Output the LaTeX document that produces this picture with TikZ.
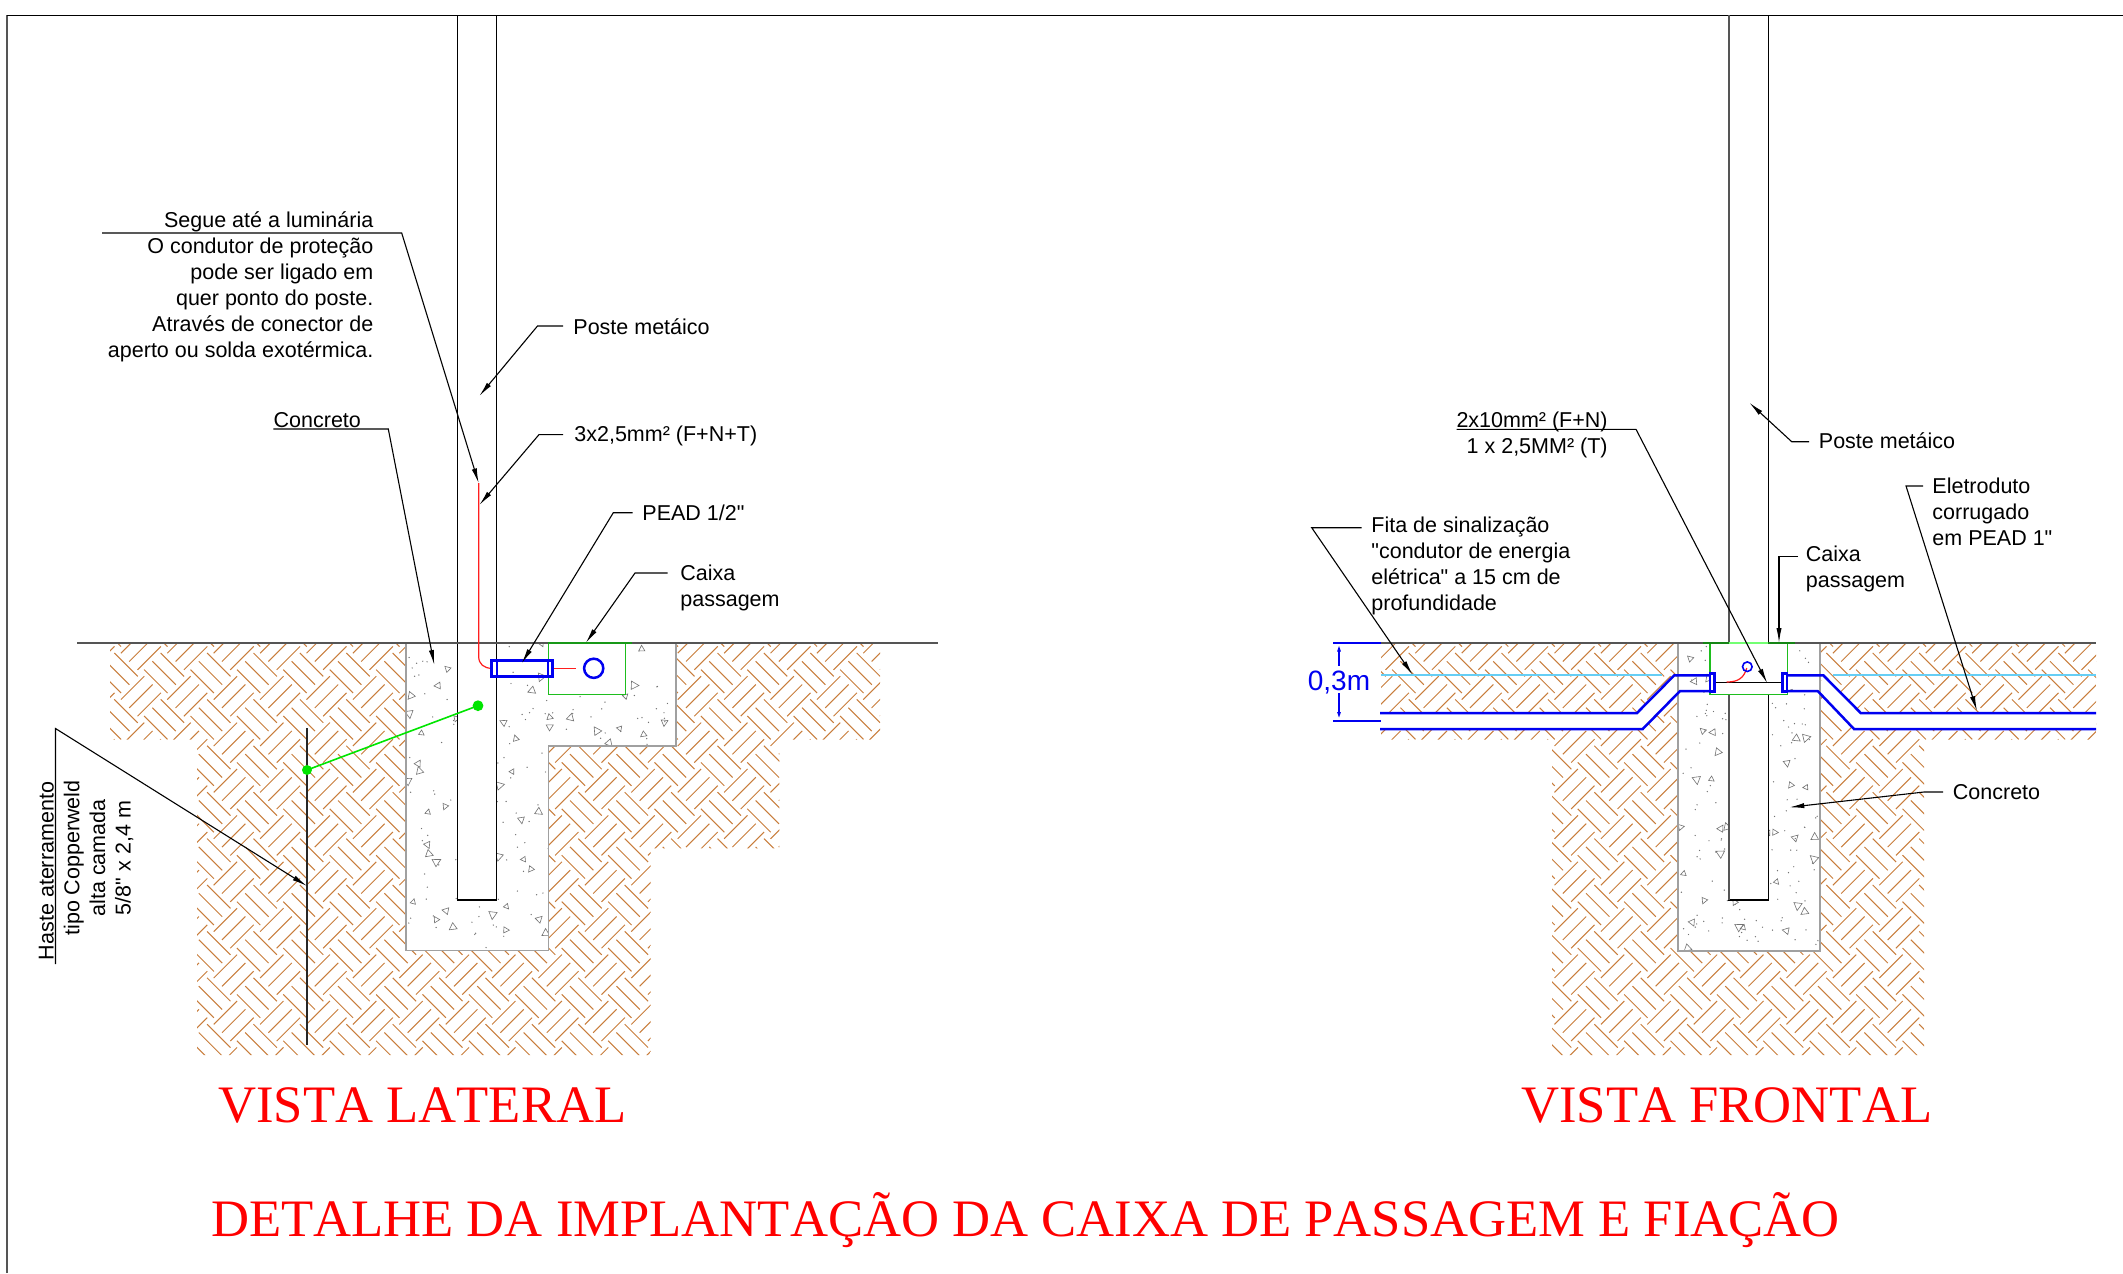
\documentclass[tikz,border=0pt]{standalone}
\usepackage{fontspec}
\setmainfont{Liberation Sans}
\newfontfamily\labelfont{Liberation Sans}
\newfontfamily\titlefont{Liberation Serif}[Kerning=Off]
\usetikzlibrary{arrows.meta}
\definecolor{soil}{RGB}{200,125,60}
\definecolor{cablered}{RGB}{255,30,30}
\definecolor{ductblue}{RGB}{0,0,240}
\definecolor{boxgreen}{RGB}{30,190,30}
\definecolor{groundgray}{RGB}{85,85,85}
\definecolor{concgray}{RGB}{160,160,160}
\tikzset{
  x=.5pt,y=-.5pt,
  hatchline/.style={draw=soil,line width=.5pt},
  leader/.style={draw=black,line width=.55pt,-{Latex[length=7.5pt,width=2.6pt]}},
  label/.style={font=\labelfont\fontsize{10.75pt}{13pt}\selectfont,inner sep=0pt},
  title/.style={font=\titlefont\fontsize{26.32pt}{30pt}\selectfont,text=red,inner sep=0pt},
  speck/.style={draw=black!55,line width=.3pt},
  dot/.style={fill=black!55},
  ground/.style={draw=groundgray,line width=.85pt},
  concrete/.style={draw=concgray,line width=.8pt},
  duct/.style={draw=ductblue,line width=1.25pt},
  pole/.style={draw=black,line width=.7pt,fill=white},
  boxline/.style={draw=boxgreen,line width=.6pt,fill=white},
  greendot/.style={fill=green!90!black},
}
\newcommand{\hatchtile}[2]{%
  \draw[hatchline,shift={(#1,#2)}]
    (-11.7,-11.7)--(11.7,11.7) (-20,-3.4)--(3.4,20) (-3.4,-20)--(20,3.4)
    (11.5,34.9)--(34.9,11.5) (19.8,43.2)--(43.2,19.8) (3.2,26.6)--(26.6,3.2);}
\newcommand{\tridraw}[3]{%
  \pgfmathsetmacro\trisc{.75+.1*mod(#3,5)}%
  \pgfmathsetmacro\trirot{#3*47}%
  \draw[speck,shift={(#1,#2)},rotate=\trirot,scale=\trisc] (0,-4)--(3.6,2.6)--(-3.6,2.6)--cycle;}
\begin{document}
\begin{tikzpicture}
\useasboundingbox (0,0) rectangle (2123,1273);
% frame
\draw[draw=groundgray,line width=.8pt] (7,1273)--(7,15.5);
\draw[draw=black,line width=.7pt] (7,15.5)--(2123,15.5);

% ---------- left view: soil
\begin{scope}
\clip (110,643)--(880,643)--(880,739.5)--(779.3,739.5)--(779.3,848.3)--(650.7,848.3)--(650.7,1055)--(197,1055)--(197,739.5)--(110,739.5)--cycle;
\foreach \ix in {0,...,18}{\foreach \iy in {0,...,10}{\hatchtile{71.3+46.4*\ix}{626.6+46.4*\iy}}}
\end{scope}
% concrete
\fill[white] (406,643)--(676,643)--(676,745.7)--(548.3,745.7)--(548.3,950.5)--(406,950.5)--cycle;
\begin{scope}
\clip (406,643)--(676,643)--(676,745.7)--(548.3,745.7)--(548.3,950.5)--(406,950.5)--cycle;
\pgfmathsetseed{4711}
\foreach \n in {1,...,210}{
  \pgfmathsetmacro\dotx{408+rnd*266}
  \pgfmathsetmacro\doty{646+rnd*302}
  \fill[dot] (\dotx,\doty) circle[radius=.35pt];}
\foreach \zx/\zy [count=\cnt] in {202/206,173/257,92/288,88/342,125/400,230/355,115/490,118/512,82/542,143/637,195/620,143/735,148/762,170/785,100/905,168/958,197/932,218/982,338/945,380/920,378/990,478/957,497/998,355/768,430/778,452/808,424/660,477/636,360/556,397/514,407/415,370/367,455/272,483/232,485/132,510/352,510/380,572/352,650/392,718/385,790/404,853/368,688/430,763/256,737/288,785/146}{
  \tridraw{380+\zx/3}{600+\zy/3}{\cnt}}
\end{scope}
\draw[concrete] (406,643)--(406,950.5)--(548.3,950.5)--(548.3,745.7)--(676,745.7)--(676,643);
% pole, box
\draw[pole] (457.3,15.5) rectangle (496.7,900);
\draw[boxline] (548.3,643) rectangle (625.3,694.3);
\draw[ground] (77,643)--(938,643);
\draw[draw=boxgreen!80!black,line width=.7pt] (548.3,643)--(632,643);
% rod and ground wire
\draw[draw=black!85,line width=1pt] (307,728)--(307,1045);
\coordinate (dotA) at (478,705.7);
\coordinate (dotB) at (307,770);
\fill[greendot] (dotA) circle[radius=2.7pt];
\fill[greendot] (dotB) circle[radius=2.5pt];
\draw[draw=green!90!black,line width=.8pt] (dotA)--(dotB);
% cable and duct
\draw[draw=cablered,line width=.6pt] (478.7,483)--(478.7,656.7) .. controls (478.7,664) and (484,668.3) .. (491.7,668.3);
\draw[draw=cablered,line width=.6pt] (551.7,668.3)--(575.7,668.3);
\draw[duct] (491.7,660.7) rectangle (552.7,676.7);
\draw[duct,line width=.9pt] (496.7,661)--(496.7,676) (548.3,661)--(548.3,676);
\draw[duct] (593.7,668.3) circle[radius=4.8pt];

% left labels
\node[label,anchor=base east,align=right] (tSegue) at (373.7,357.5) {Segue até a luminária\\O condutor de proteção\\pode ser ligado em\\quer ponto do poste.\\Através de conector de\\aperto ou solda exotérmica.};
\coordinate (sA) at (102,233); \coordinate (sB) at (401.7,233); \coordinate (sC) at (478.7,483.3);
\draw[leader] (sA)--(sB)--(sC);
\node[label,anchor=base west] (tConc) at (273.3,427) {Concreto};
\coordinate (cA) at (273.3,429); \coordinate (cB) at (388.3,429); \coordinate (cC) at (434.3,665);
\draw[leader] (cA)--(cB)--(cC);
\node[label,anchor=base west] (tPoste) at (573,334.5) {Poste metáico};
\coordinate (pA) at (563,326); \coordinate (pB) at (537.5,326); \coordinate (pC) at (479.3,396);
\draw[leader] (pA)--(pB)--(pC);
\node[label,anchor=base west] (tCabo) at (574,441.5) {3x2,5mm² (F+N+T)};
\coordinate (kA) at (563,434.6); \coordinate (kB) at (539,434.6); \coordinate (kC) at (479.3,505);
\draw[leader] (kA)--(kB)--(kC);
\node[label,anchor=base west] (tPead) at (642,520) {PEAD 1/2"};
\coordinate (dA) at (632.7,512.7); \coordinate (dB) at (613.3,512.7); \coordinate (dC) at (521.7,663.3);
\draw[leader] (dA)--(dB)--(dC);
\node[label,anchor=base west,align=left] (tCaixa) at (680,606) {Caixa\\passagem};
\coordinate (xA) at (667.5,573); \coordinate (xB) at (635,573); \coordinate (xC) at (585.7,643);
\draw[leader] (xA)--(xB)--(xC);
\node[label,rotate=90,anchor=base] (tH1) at (53.6,871) {Haste aterramento};
\node[label,rotate=90,anchor=base] (tH2) at (79.3,858) {tipo Copperweld};
\node[label,rotate=90,anchor=base] (tH3) at (105,858) {alta camada};
\node[label,rotate=90,anchor=base] (tH4) at (130.7,858) {5/8" x 2,4 m};
\coordinate (hA) at (55.5,964); \coordinate (hB) at (55.5,728.5); \coordinate (hC) at (307,886);
\draw[leader] (hA)--(hB)--(hC);

% ---------- right view: soil
\begin{scope}
\clip (1381,643)--(2096,643)--(2096,739.5)--(1924,739.5)--(1924,1055)--(1552,1055)--(1552,739.5)--(1381,739.5)--cycle;
\foreach \ix in {0,...,16}{\foreach \iy in {0,...,10}{\hatchtile{1365.7+46.4*\ix}{626.6+46.4*\iy}}}
\end{scope}
% white band of the duct trenches
\fill[white] (1381,713)--(1637,713)--(1674.3,675.3)--(1680,691)--(1642.7,729)--(1381,729)--cycle;
\fill[white] (1823.3,675.3)--(1860.7,713)--(2096,713)--(2096,729)--(1854,729)--(1817.7,691)--cycle;
\draw[draw=cyan!60,line width=.8pt] (1381,675)--(1662,675) (1833,675)--(2096,675);
% concrete
\fill[white] (1677.7,643) rectangle (1820,951);
\begin{scope}
\clip (1677.7,643) rectangle (1820,951);
\pgfmathsetseed{90210}
\foreach \n in {1,...,160}{
  \pgfmathsetmacro\dotx{1680+rnd*138}
  \pgfmathsetmacro\doty{646+rnd*303}
  \fill[dot] (\dotx,\doty) circle[radius=.35pt];}
\foreach \zx/\zy [count=\cnt] in {128/122,158/127,173/187,110/270,155/268,63/411,183/415,200/410,180/490,70/551,132/632,97/698,84/775,238/710,250/712,224/636,378/722,433/666,413/648,350/576,345/427,406/443,464/440,461/506,437/292,392/286,381/220,410/146,439/143,325/428}{
  \tridraw{1660+\zx/3}{690+\zy/3}{\cnt}}
\foreach \zx/\zy [count=\cnt] in {150/115,162/184,205/176}{
  \tridraw{1640+\zx/3}{620+\zy/3}{\cnt}}
\end{scope}
\draw[concrete] (1677.7,643)--(1677.7,951)--(1820,951)--(1820,643);
% pole, box
\draw[draw=black,line width=.7pt,fill=white] (1729,15.5) rectangle (1768.3,900);
\draw[draw=groundgray,line width=1pt] (1729,15.5)--(1729,900);
\draw[boxline] (1710,643) rectangle (1787.3,694.3);
\draw[ground] (1381,643)--(2096,643);
\draw[draw=boxgreen!70!black,line width=.85pt] (1703,643)--(1729,643) (1768.3,643)--(1795,643);
\draw[draw=green!55!white,line width=.85pt] (1729,643)--(1768.3,643);
\draw[draw=black,line width=.6pt] (1714,682.3)--(1783,682.3);
\draw[draw=cablered,line width=.6pt] (1726.7,682) .. controls (1738,682) and (1744,678) .. (1746.7,668);
\draw[draw=ductblue,line width=.8pt] (1747.3,666.7) circle[radius=2.4pt];
% ducts
\draw[duct] (1380,713)--(1637,713)--(1674.3,675.3)--(1710,675.3);
\draw[duct] (1380,729)--(1642.7,729)--(1680,691)--(1710,691);
\draw[duct] (1710,673.3) rectangle (1714.7,691.7);
\draw[duct] (1782.7,673.3) rectangle (1787,691.7);
\draw[duct] (1787,675.3)--(1823.3,675.3)--(1860.7,713)--(2096,713);
\draw[duct] (1787,691)--(1817.7,691)--(1854,729)--(2096,729);
% dimension
\node[font=\fontsize{14pt}{16pt}\selectfont,text=ductblue,inner sep=0pt,anchor=base] (tDim) at (1339,690) {0,3m};
\coordinate (m1) at (1333,642.7); \coordinate (m2) at (1381,642.7);
\coordinate (m3) at (1333,720.7); \coordinate (m4) at (1381,720.7);
\coordinate (m5) at (1339,643.5); \coordinate (m6) at (1339,666);
\coordinate (m7) at (1339,720); \coordinate (m8) at (1339,693);
\draw[draw=ductblue,line width=1pt] (m1)--(m2) (m3)--(m4);
\draw[draw=ductblue,line width=1pt,{Latex[length=4pt,width=2pt]}-] (m5)--(m6);
\draw[draw=ductblue,line width=1pt,{Latex[length=4pt,width=2pt]}-] (m7)--(m8);

% right labels
\node[label,anchor=base east,align=right] (tFio) at (1608,453) {2x10mm² (F+N)\\1 x 2,5MM² (T)};
\coordinate (fA) at (1456.7,429.3); \coordinate (fB) at (1636,429.3); \coordinate (fC) at (1767.3,683.3);
\draw[leader] (fA)--(fB)--(fC);
\node[label,anchor=base west,align=left] (tFita) at (1371,610.5) {Fita de sinalização\\"condutor de energia\\elétrica" a 15 cm de\\profundidade};
\coordinate (aA) at (1361.7,527.7); \coordinate (aB) at (1311.7,527.7); \coordinate (aC) at (1412.7,675);
\draw[leader] (aA)--(aB)--(aC);
\node[label,anchor=base west,align=left] (tCaixaB) at (1805.5,587.5) {Caixa\\passagem};
\coordinate (bA) at (1798,556.7); \coordinate (bB) at (1779,556.7); \coordinate (bC) at (1779,643);
\draw[leader] (bA)--(bB)--(bC);
\node[label,anchor=base west] (tPosteB) at (1818.5,448.5) {Poste metáico};
\coordinate (qA) at (1809,441.7); \coordinate (qB) at (1791.7,441.7); \coordinate (qC) at (1749.3,402.7);
\draw[leader] (qA)--(qB)--(qC);
\node[label,anchor=base west,align=left] (tEle) at (1932,545.5) {Eletroduto\\corrugado\\em PEAD 1"};
\coordinate (eA) at (1923,486); \coordinate (eB) at (1906,486); \coordinate (eC) at (1977,711);
\draw[leader] (eA)--(eB)--(eC);
\node[label,anchor=base west] (tConcB) at (1952.5,799) {Concreto};
\coordinate (oA) at (1943,792); \coordinate (oB) at (1924,792); \coordinate (oC) at (1789.3,807.3);
\draw[leader] (oA)--(oB)--(oC);

% titles
\node[title,anchor=base west] (tLat) at (218,1122.7) {VISTA LATERAL};
\node[title,anchor=base west] (tFro) at (1521,1122.7) {VISTA FRONTAL};
\node[title,anchor=base west] (tDet) at (210.7,1236) {DETALHE DA IMPLANTAÇÃO DA CAIXA DE PASSAGEM E FIAÇÃO};
\end{tikzpicture}
\end{document}
